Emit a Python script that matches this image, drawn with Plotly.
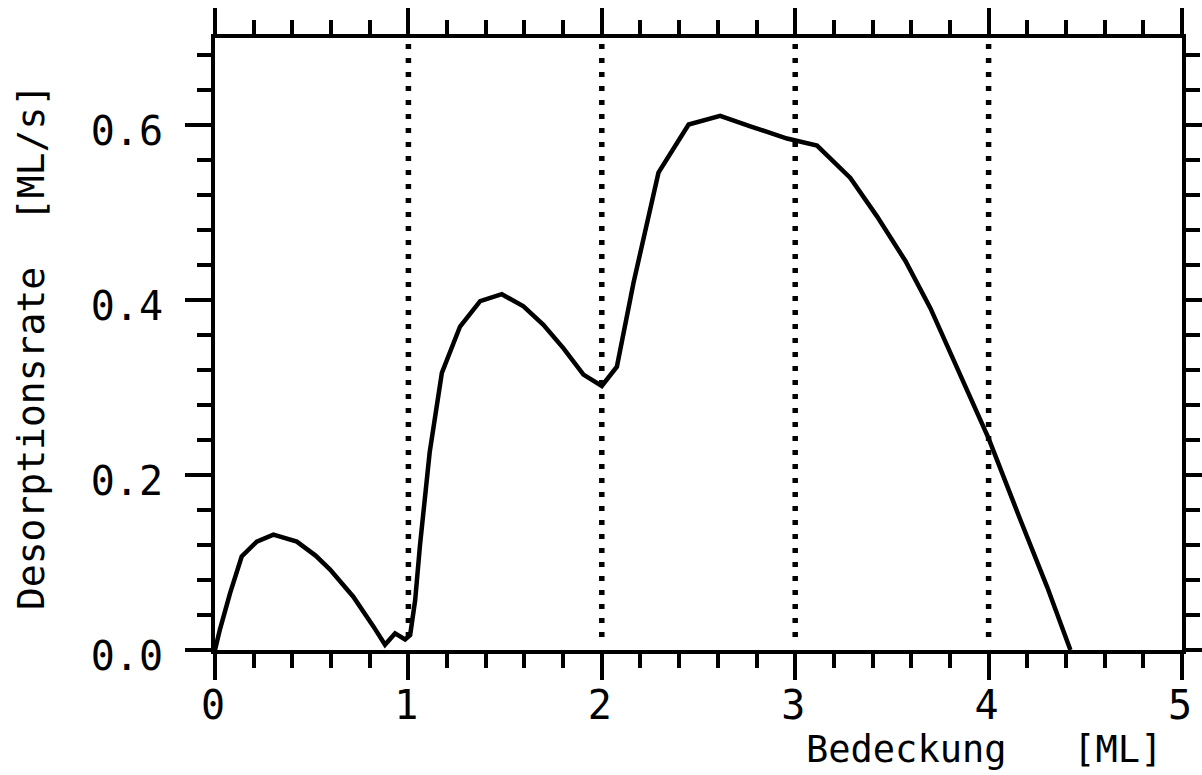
import plotly.graph_objects as go

# Desorption rate versus coverage
coverage = [0.0, 0.026, 0.078, 0.138, 0.216, 0.302, 0.423, 0.52, 0.595, 0.715,
            0.819, 0.879, 0.931, 0.983, 1.009, 1.035, 1.06, 1.11, 1.173, 1.267,
            1.371, 1.483, 1.595, 1.698, 1.802, 1.905, 2.0, 2.078, 2.164, 2.293,
            2.449, 2.612, 2.768, 2.958, 3.113, 3.285, 3.423, 3.57, 3.699, 3.785,
            3.889, 4.0, 4.164, 4.303, 4.423]
rate = [0.0, 0.024, 0.065, 0.107, 0.124, 0.132, 0.124, 0.108, 0.092, 0.061,
        0.027, 0.006, 0.019, 0.012, 0.017, 0.057, 0.12, 0.226, 0.317, 0.37,
        0.399, 0.407, 0.393, 0.372, 0.345, 0.315, 0.302, 0.324, 0.42, 0.546,
        0.601, 0.611, 0.599, 0.585, 0.577, 0.54, 0.496, 0.445, 0.391, 0.349,
        0.296, 0.242, 0.149, 0.072, 0.0]

# Monolayer boundaries marked with dotted guides
layer_marks = [1, 2, 3, 4]
guide_span = [0.015, 0.7]

x_ticks = [0, 1, 2, 3, 4, 5]
y_ticks = [0.0, 0.2, 0.4, 0.6]

FONT = "DejaVu Sans Mono"

fig = go.Figure()

for lm in layer_marks:
    fig.add_trace(go.Scatter(
        x=[lm, lm], y=guide_span, mode="lines",
        line=dict(color="black", width=5.5, dash="5px,9px"),
        hoverinfo="skip", showlegend=False))

fig.add_trace(go.Scatter(
    x=coverage, y=rate, mode="lines",
    line=dict(color="black", width=4.5),
    showlegend=False))

axis_style = dict(
    showline=True, linewidth=4, linecolor="black", mirror="allticks",
    ticks="outside", ticklen=26, tickwidth=4, tickcolor="black",
    showgrid=False, zeroline=False, automargin=False,
    tickfont=dict(family=FONT, size=40, color="black"),
)

fig.update_xaxes(
    range=[0, 5], tickmode="array", tickvals=x_ticks,
    ticktext=[str(v) for v in x_ticks], ticklabelstandoff=-9,
    ticklabelshift=-2,
    minor=dict(ticks="outside", ticklen=14, tickwidth=4, tickcolor="black",
               dtick=0.2, tick0=0, showgrid=False),
    **axis_style)

fig.update_yaxes(
    range=[0, 0.7], tickmode="array", tickvals=y_ticks,
    ticktext=[f"{v:.1f}" for v in y_ticks], ticklabelstandoff=14,
    ticklabelshift=6,
    minor=dict(ticks="outside", ticklen=14, tickwidth=4, tickcolor="black",
               dtick=0.04, tick0=0, showgrid=False),
    **axis_style)

fig.add_annotation(
    text="Bedeckung\u00a0\u00a0\u00a0[ML]", xref="paper", yref="paper",
    x=1, y=0, xanchor="right", yanchor="middle", xshift=-18, yshift=-99,
    showarrow=False, font=dict(family=FONT, size=37, color="black"))

fig.add_annotation(
    text="Desorptionsrate\u00a0\u00a0[ML/s]", xref="paper", yref="paper",
    x=0, y=0.495, xanchor="center", yanchor="middle", xshift=-184,
    textangle=-90, showarrow=False,
    font=dict(family=FONT, size=38, color="black"))

fig.update_layout(
    width=1202, height=775,
    margin=dict(l=215, r=20, t=38, b=125, autoexpand=False),
    paper_bgcolor="white", plot_bgcolor="white",
    showlegend=False,
)

fig.write_html("out.html")
